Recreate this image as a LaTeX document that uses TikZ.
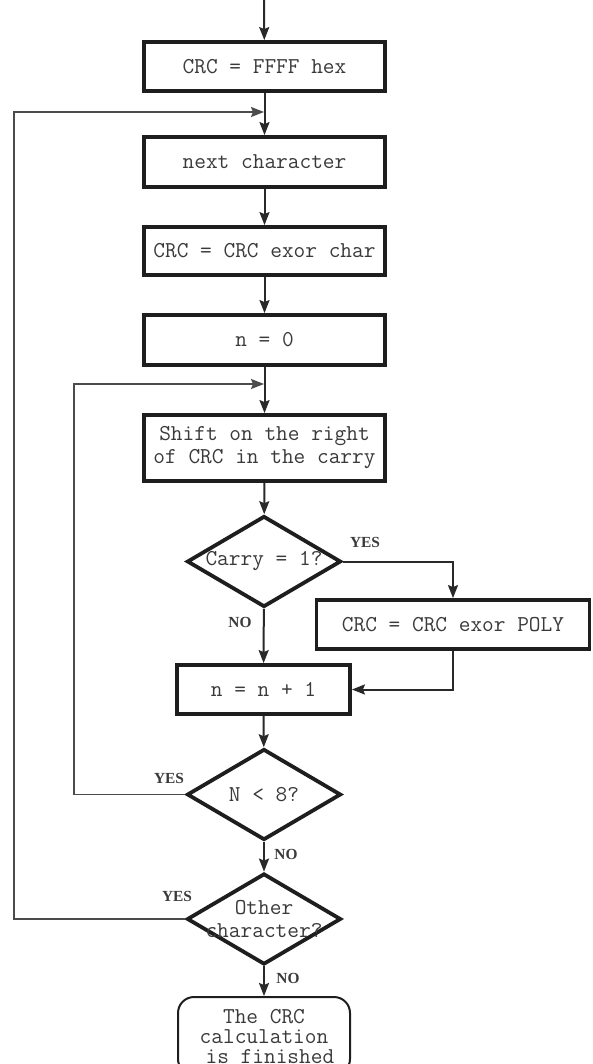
\documentclass[tikz,border=0pt]{standalone}
\usepackage{fontspec}
\setmainfont{Liberation Serif}
\usetikzlibrary{shapes.geometric,arrows.meta}
\definecolor{ink}{HTML}{1E1E1E}
\definecolor{txt}{HTML}{3A3A3A}
\begin{document}
\begin{tikzpicture}[x=1pt, y=-1pt,
  every node/.style={font=\ttfamily\fontsize{22.7}{23}\selectfont, text=txt},
  proc/.style={rectangle, draw=ink, line width=3.8pt, inner sep=2pt, align=center},
  test/.style={diamond, draw=ink, line width=3.8pt, inner sep=0pt, minimum width=154pt, minimum height=91pt},
  dtext/.style={align=center, inner sep=0pt, text=txt},
  term/.style={rectangle, rounded corners=16pt, draw=ink, line width=2pt, align=center,
    font=\ttfamily\fontsize{22.7}{20}\selectfont},
  ans/.style={font=\bfseries\fontsize{15.4}{16}\selectfont, text=txt},
  edge/.style={draw=ink!95, line width=2pt, -{Stealth[length=13pt, width=10pt, inset=2pt]}},
  back/.style={draw=ink!80, line width=1.6pt, -{Stealth[length=13pt, width=10pt, inset=2pt]}}]
  \useasboundingbox (0,0) rectangle (592,1064);
  \clip (0,0) rectangle (592,1064);
  \coordinate (start) at (264,0);
  \node[proc, minimum width=241pt, minimum height=49pt] (init) at (264.5,66.5) {CRC = FFFF hex};
  \coordinate (j1) at (264,112);
  \node[proc, minimum width=241pt, minimum height=50pt] (next) at (264.5,162) {next character};
  \node[proc, minimum width=241pt, minimum height=48pt] (xchar) at (264.5,251) {CRC = CRC exor char};
  \node[proc, minimum width=241pt, minimum height=50pt] (nzero) at (264.5,340) {n = 0};
  \coordinate (j2) at (264,384);
  \node[proc, minimum width=241pt, minimum height=66pt] (shift) at (264.5,448) {Shift on the right\\of CRC in the carry};
  \node[test, label={[dtext]center:Carry = 1?}] (carry) at (264,561.5) {};
  \node[proc, minimum width=273pt, minimum height=49pt] (xpoly) at (453,624.5) {CRC = CRC exor POLY};
  \node[proc, minimum width=173pt, minimum height=49pt] (ninc) at (263.5,689.5) {n = n + 1};
  \node[test, label={[dtext]center:N < 8?}] (nless) at (264,794.5) {};
  \node[test, label={[dtext]center:{Other\\character?}}] (other) at (264,919) {};
  \node[term, minimum width=172pt, minimum height=78pt] (done) at (264,1036) {The CRC\\calculation\\\hspace*{0.525em}is finished};
  \draw[edge] (start) -- (init);
  \draw[edge] (init) -- (next);
  \draw[edge] (next) -- (xchar);
  \draw[edge] (xchar) -- (nzero);
  \draw[edge] (nzero) -- (shift);
  \draw[edge] (shift) -- (carry);
  \draw[edge] (carry.east) -| (xpoly.north);
  \draw[edge] (carry) -- (ninc);
  \draw[edge] (xpoly.south) |- (ninc.east);
  \draw[edge] (ninc) -- (nless);
  \draw[edge] (nless) -- (other);
  \draw[edge] (other) -- (done);
  \draw[back] (nless.west) -- (74,794.5) -- (74,384) -- (j2);
  \draw[back] (other.west) -- (14,919) -- (14,112) -- (j1);
  \node[ans] (yes1) at (365,542) {YES};
  \node[ans] (no1) at (240,622) {NO};
  \node[ans] (yes2) at (169,778) {YES};
  \node[ans] (no2) at (286,854) {NO};
  \node[ans] (yes3) at (177,896) {YES};
  \node[ans] (no3) at (288,978) {NO};
\end{tikzpicture}
\end{document}
